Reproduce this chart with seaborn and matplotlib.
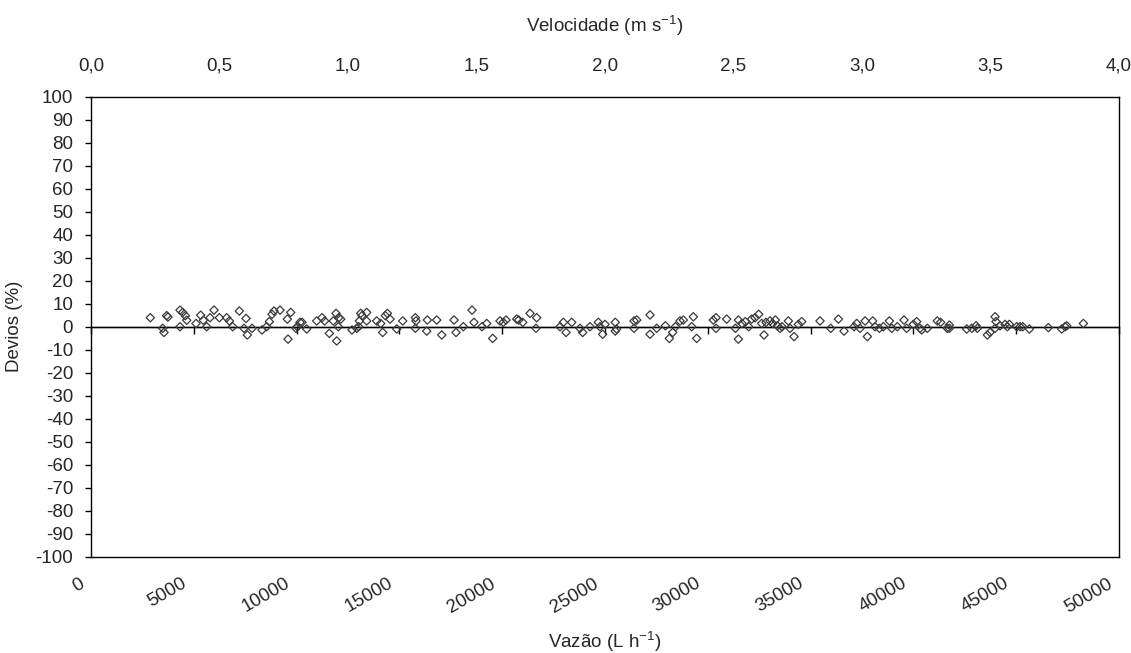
import matplotlib
matplotlib.use("Agg")
import matplotlib.pyplot as plt
import matplotlib.transforms as mtransforms
import numpy as np
import pandas as pd
import seaborn as sns

# Flow rate (L/h) and deviation (%) of each measurement
vazao = [2885, 3487, 3550, 3680, 3745, 4330, 4460, 4330, 4590, 4655, 5107, 5335,
         5465, 5627, 5790, 5983, 6243, 6600, 6730, 6892, 7215, 7442, 7540, 7604,
         7832, 8317, 8544, 8674, 8804, 8901, 9193, 9550, 9713, 9583, 9971, 10036,
         10166, 10263, 10490, 11592, 11950, 10978, 11236, 11365, 11786, 11917,
         12048, 12145, 12030, 12695, 12923, 13053, 13118, 13182, 13410, 13410,
         13020, 13896, 14090, 14187, 14317, 14415, 14544, 14869, 15161, 15776,
         15808, 15776, 16328, 16360, 16815, 17059, 17656, 17754, 18110, 18532,
         18629, 19018, 19247, 19538,
         19894, 20054, 20186, 20706, 20803, 20998, 21353, 21678, 21645, 22812,
         22974, 23105, 23381, 23784, 23915, 24270, 24675, 24757, 24887, 24999,
         25500, 25500, 25565, 26413, 26543, 26413, 27190, 27190, 27515, 27936,
         28130, 28293, 28423, 28649, 28811, 29217, 29297, 29459,
         30269, 30400, 30400, 30919, 31341, 31487, 31487, 31665, 31827, 31989,
         32135, 32297, 32476, 32621, 32735, 32832, 33027, 33156, 33286, 33383,
         33513, 33610, 33918, 34000, 34194, 34405, 34567, 35458, 35978, 36351,
         36626, 37113, 37244, 37405, 37649, 37762, 38021, 38135, 38346, 38540,
         38832, 38946, 39218,
         39543, 39672, 39997, 40159, 40321, 40402, 40677, 41163, 41325, 41649,
         41747, 41747, 42595, 42837, 43048, 43113, 43599, 43728, 43971, 44020,
         43971, 44214, 44458, 44571, 44668, 45025, 45187, 45317, 45641, 46565,
         47214, 47376, 47457, 48267]

desvio = [3.9, -0.7, -2.5, 4.8, 4.2, 7.2, 6.2, 0.0, 4.8, 2.8, 1.4, 5.0,
          2.8, 0.0, 3.9, 7.2, 3.9, 3.9, 2.5, 0.0, 6.8, -0.7, 3.6, -3.6,
          -0.7, -1.4, 0.0, 2.2, 5.4, 6.8, 7.2, 3.3, 6.2, -5.4, -0.7, 0.0,
          1.9, 1.9, -1.0, -2.9, -6.2, 2.5, 3.9, 2.5, 2.5, 5.8,
          3.9, 3.3, 0.0, -1.4, -0.7, 2.5, 5.8, 4.8, 6.2, 2.5,
          0.0, 2.5, 1.4, -2.5, 4.8, 5.8, 3.3, -1.0, 2.5, 3.9,
          2.5, -0.7, -1.9, 2.9, 2.9, -3.6, 2.9, -2.5, 0.0, 7.2,
          1.9, 0.0, 1.4, -5.1,
          2.5, 1.9, 2.9, 3.3, 2.9, 1.9, 5.8, 3.9, -0.7, 0.0,
          1.9, -2.5, 1.9, -0.7, -2.5, 0.0, 1.9, 0.0, -3.3, 1.0,
          1.9, -1.9, -1.0, 2.5, 2.9, -0.7, 5.1, -3.3, -0.7, 0.4,
          -5.1, -2.5, 0.0, 2.5, 2.9, 0.0, 4.3, -5.1,
          2.9, 3.9, -0.7, 3.3, -0.7, 2.9, -5.4, 1.4, 2.2, 0.0,
          3.3, 3.9, 5.4, 1.4, -3.6, 1.9, 2.5, 1.4, 2.9, 0.4,
          -0.7, 0.0, 2.5, -0.7, -4.3, 1.0, 2.2, 2.5, -0.7, 3.3,
          -1.9, 0.0, 1.4, -0.7, 2.5, -4.3, 2.5, 0.0, -0.7, 0.0,
          2.5, -0.7, 0.0,
          2.9, -0.7, 1.0, 2.2, -0.7, -1.4, -0.7, 2.5, 1.9, -0.7,
          0.7, -0.7, -1.0, -0.7, 0.4, -0.7, -3.6, -2.5, 4.3, 2.2,
          -0.7, 0.4, 1.0, 0.0, 1.0, 0.0, 0.0, 0.0, -1.0, -0.4,
          -1.0, 0.0, 0.4, 1.4]

vazao_ticks = [0, 5000, 10000, 15000, 20000, 25000, 30000, 35000, 40000, 45000, 50000]
vel_ticks = [0.0, 0.5, 1.0, 1.5, 2.0, 2.5, 3.0, 3.5, 4.0]
desvio_ticks = list(range(-100, 101, 10))

FS = 13.5

sns.set_style("white")
plt.rcParams["font.family"] = ["Liberation Sans", "DejaVu Sans"]
plt.rcParams["font.size"] = FS
plt.rcParams["mathtext.default"] = "regular"
plt.rcParams["axes.unicode_minus"] = False

df = pd.DataFrame({"vazao": vazao, "desvio": desvio})

fig = plt.figure(figsize=(11.31, 6.53), dpi=100)
ax = fig.add_axes([91 / 1131, 1 - 556.7 / 653, (1119 - 91) / 1131, (556.7 - 96.7) / 653])

sns.scatterplot(data=df, x="vazao", y="desvio", marker="D", s=18,
                facecolor="none", edgecolor="#3a3a3a", linewidth=0.9, ax=ax, zorder=3)

ax.set_xlim(0, 50000)
ax.set_ylim(-100, 100)
ax.axhline(0, color="black", lw=1.0, zorder=2)

for sp in ax.spines.values():
    sp.set_visible(True)
    sp.set_color("black")
    sp.set_linewidth(1.0)

# Y axis
ax.set_yticks(desvio_ticks)
ax.set_yticklabels([str(t) for t in desvio_ticks])
ax.tick_params(axis="y", direction="out", length=4.3, width=1, color="black",
               pad=8.5, labelsize=FS, left=True)
ax.set_ylabel("Devios (%)", fontsize=FS, labelpad=9)

# Bottom axis: rotated labels, no tick marks on the frame
ax.set_xticks(vazao_ticks)
ax.set_xticklabels([str(t) for t in vazao_ticks])
ax.tick_params(axis="x", length=0, pad=18.5, labelsize=FS)
offset = mtransforms.ScaledTranslation(-8 / 100, 0, fig.dpi_scale_trans)
for lbl in ax.get_xticklabels():
    lbl.set_rotation(30)
    lbl.set_rotation_mode("anchor")
    lbl.set_ha("right")
    lbl.set_va("center")
    lbl.set_transform(lbl.get_transform() + offset)
ax.set_xlabel("Vazão (L h$^{-1}$)", fontsize=FS, labelpad=10)

# Category axis crossing at zero: short ticks pointing down
sec = ax.secondary_xaxis(0.5)
sec.set_alignment("bottom")
sec.set_xticks(vazao_ticks)
sec.tick_params(axis="x", direction="out", length=5, width=1, color="black",
                labelbottom=False, labeltop=False)
sec.spines["bottom"].set_linewidth(1.0)

# Top axis: velocity
top = ax.twiny()
top.set_xlim(0, 4.0)
top.set_xticks(vel_ticks)
top.set_xticklabels([f"{v:.1f}".replace(".", ",") for v in vel_ticks])
top.tick_params(axis="x", length=0, pad=16, labelsize=FS)
top.set_xlabel("Velocidade (m s$^{-1}$)", fontsize=FS, labelpad=18)
for sp in top.spines.values():
    sp.set_visible(False)

fig.savefig("out.png", dpi=100, facecolor="white")
